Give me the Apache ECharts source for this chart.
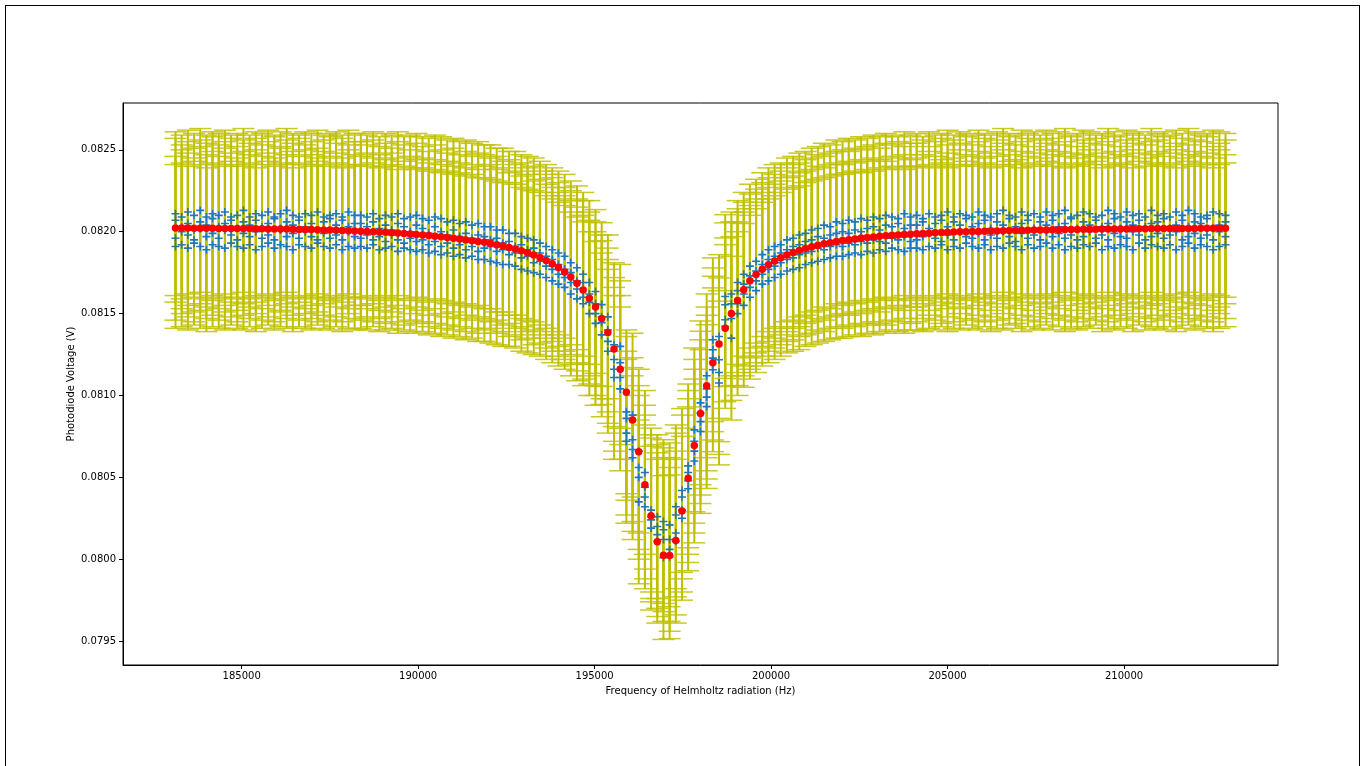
<!DOCTYPE html>
<html>
<head>
<meta charset="utf-8">
<script src="https://cdn.jsdelivr.net/npm/echarts@6/dist/echarts.min.js"></script>
<style>
  html, body { margin: 0; padding: 0; background: #fff; }
  #main { position: absolute; left: 0; top: 0; width: 1366px; height: 766px; }
  #frame { position: absolute; left: 5px; top: 5px; width: 1355px; height: 900px; box-sizing: border-box;
           border: 1px solid #000; pointer-events: none; }
</style>
</head>
<body>
<div id="main"></div>
<div id="frame"></div>
<script>
// frequency of the Helmholtz field (Hz)
var freqHz = [
  183125,183300,183475,183650,183825,184000,184175,184350,184525,184700,
  184875,185050,185225,185400,185575,185750,185925,186100,186275,186450,
  186625,186800,186975,187150,187325,187500,187675,187850,188025,188200,
  188375,188550,188725,188900,189075,189250,189425,189600,189775,189950,
  190125,190300,190475,190650,190825,191000,191175,191350,191525,191700,
  191875,192050,192225,192400,192575,192750,192925,193100,193275,193450,
  193625,193800,193975,194150,194325,194500,194675,194850,195025,195200,
  195375,195550,195725,195900,196075,196250,196425,196600,196775,196950,
  197125,197300,197475,197650,197825,198000,198175,198350,198525,198700,
  198875,199050,199225,199400,199575,199750,199925,200100,200275,200450,
  200625,200800,200975,201150,201325,201500,201675,201850,202025,202200,
  202375,202550,202725,202900,203075,203250,203425,203600,203775,203950,
  204125,204300,204475,204650,204825,205000,205175,205350,205525,205700,
  205875,206050,206225,206400,206575,206750,206925,207100,207275,207450,
  207625,207800,207975,208150,208325,208500,208675,208850,209025,209200,
  209375,209550,209725,209900,210075,210250,210425,210600,210775,210950,
  211125,211300,211475,211650,211825,212000,212175,212350,212525,212700,
  212875
];

// measured photodiode voltage, four readings per frequency (V)
var measA = [
  .08211,.08209,.08212,.0821,.08213,.08209,.08211,.0821,.08212,.08209,
  .0821,.08213,.08209,.08211,.0821,.08212,.08209,.08211,.08213,.0821,
  .08209,.08211,.0821,.08212,.08209,.0821,.08211,.08209,.08212,.0821,
  .0821,.08209,.08211,.08208,.0821,.08209,.08211,.08208,.08209,.0821,
  .08208,.08207,.08209,.08208,.08206,.08207,.08205,.08206,.08204,.08205,
  .08203,.08203,.08201,.08201,.08199,.08199,.08197,.08196,.08195,.08193,
  .08191,.08189,.08187,.08185,.08181,.08178,.08174,.08169,.081635,.081555,
  .08148,.08131,.0813,.0809,.08088,.08066,.08053,.0803,.08026,.08023,
  .08021,.08032,.08042,.08057,.08079,.080955,.08112,.08134,.08136,.081604,
  .08162,.08169,.08174,.08179,.08182,.08186,.08189,.08191,.08192,.08195,
  .08196,.08198,.08199,.08201,.08202,.08204,.08203,.08206,.08205,.08207,
  .08206,.08208,.08207,.08209,.08208,.0821,.08209,.08208,.08211,.08209,
  .0821,.08208,.08211,.08209,.0821,.08212,.08209,.08211,.0821,.08209,
  .08212,.0821,.08209,.08211,.08213,.0821,.08209,.08212,.0821,.08211,
  .08209,.08212,.0821,.08211,.08213,.08209,.0821,.08212,.08211,.08209,
  .0821,.08213,.08211,.08209,.08212,.0821,.08211,.08209,.08213,.0821,
  .08211,.08209,.08212,.0821,.08213,.08211,.08209,.0821,.08212,.08211,
  .0821
];
var measB = [
  .08207,.08203,.08205,.08201,.08206,.08204,.08208,.08203,.08205,.08207,
  .08202,.08206,.08204,.08207,.08203,.08205,.08208,.08202,.08206,.08204,
  .08207,.08203,.08205,.08201,.08206,.08208,.08204,.08207,.08203,.08205,
  .08205,.08203,.08206,.08202,.08204,.08201,.08205,.08203,.082,.08204,
  .08202,.08199,.08203,.082,.08198,.08201,.08197,.08199,.08196,.08198,
  .08197,.08195,.08196,.08193,.08194,.08191,.08192,.08189,.0819,.08187,
  .08185,.08183,.0818,.08177,.08175,.0817,.08169,.08162,.08156,.08148,
  .0814,.08122,.0812,.08086,.08073,.08056,.08044,.08026,.0802,.08018,
  .08012,.08027,.08038,.08053,.08072,.080892,.08104,.081279,.081218,.081554,
  .08156,.08164,.08168,.08173,.08176,.0818,.08183,.08185,.08187,.08189,
  .08191,.08192,.08194,.08195,.08197,.08196,.08198,.08199,.082,.08199,
  .08201,.082,.08202,.08203,.08201,.08204,.08203,.08205,.08202,.08204,
  .08204,.08206,.08202,.08205,.08207,.08203,.08206,.08204,.08208,.08203,
  .08205,.08207,.08202,.08206,.08204,.08208,.08203,.08205,.08207,.08202,
  .08206,.08204,.08207,.08203,.08205,.08208,.08202,.08206,.08204,.08207,
  .08203,.08205,.08208,.08202,.08206,.08204,.08207,.08203,.08205,.08206,
  .08208,.08202,.08204,.08207,.08203,.08206,.08205,.08208,.08202,.08204,
  .08206
];
var measC = [
  .08196,.082,.08198,.08195,.08202,.08197,.08199,.08196,.08201,.08198,
  .08195,.08199,.08197,.082,.08196,.08198,.08195,.08201,.08197,.08199,
  .08196,.082,.08197,.08195,.08199,.08196,.08198,.08195,.082,.08197,
  .08196,.08198,.08195,.08197,.08194,.08198,.08195,.08193,.08196,.08194,
  .08195,.08192,.08194,.08191,.08193,.0819,.08192,.08189,.08191,.08188,
  .0819,.08191,.08188,.08189,.08186,.08187,.08184,.08185,.08181,.08182,
  .08179,.08177,.08174,.08172,.08169,.08165,.0816,.08157,.0815,.081445,
  .08133,.08116,.08111,.08077,.08067,.0805,.08038,.08024,.08015,.08012,
  .08006,.08016,.0803,.08048,.08066,.08084,.08099,.081228,.08114,.081462,
  .08147,.08156,.08162,.08166,.0817,.08174,.08177,.08179,.08181,.08183,
  .08184,.08186,.08187,.08188,.0819,.08189,.08191,.08192,.08191,.08193,
  .08192,.08194,.08193,.08195,.08194,.08193,.08196,.08195,.08197,.08194,
  .08195,.08197,.08199,.08196,.08194,.08198,.08195,.082,.08197,.08196,
  .08199,.08195,.08198,.08196,.082,.08197,.08194,.08199,.08196,.08198,
  .08195,.082,.08197,.08199,.08196,.08198,.08195,.08197,.082,.08196,
  .08198,.08195,.08199,.08197,.08196,.082,.08198,.08195,.08197,.08199,
  .08196,.08198,.082,.08195,.08197,.08199,.08196,.08198,.08195,.082,
  .08197
];
var measD = [
  .08191,.08192,.0819,.08193,.08191,.08189,.08192,.08191,.0819,.08193,
  .08191,.0819,.08192,.08189,.08191,.08193,.0819,.08192,.08191,.08189,
  .08192,.08191,.0819,.08193,.08191,.0819,.08192,.08189,.08191,.0819,
  .08191,.0819,.08192,.08189,.0819,.08191,.08188,.0819,.08189,.08188,
  .08189,.08187,.08188,.08186,.08187,.08185,.08186,.08184,.08185,.08183,
  .08183,.08182,.08181,.0818,.0818,.08179,.08177,.08176,.08175,.08174,
  .08172,.0817,.08168,.08166,.08162,.08159,.08156,.0815,.08144,.08137,
  .08127,.08111,.08104,.08072,.08062,.08035,.08032,.08019,.08011,.08001,
  .080015,.08011,.08025,.08043,.0806,.08078,.080932,.081157,.081076,.081421,
  .08135,.0815,.08155,.0816,.08164,.08168,.0817,.08172,.08174,.08176,
  .08177,.08178,.0818,.08181,.08182,.08183,.08184,.08185,.08185,.08186,
  .08187,.08186,.08188,.08187,.08189,.08188,.0819,.08189,.08188,.0819,
  .0819,.08189,.08191,.0819,.08192,.08189,.08191,.0819,.08193,.08191,
  .0819,.08192,.08189,.08191,.0819,.08193,.08191,.08189,.08192,.0819,
  .08191,.08193,.0819,.08192,.08189,.08191,.0819,.08192,.08191,.08193,
  .08189,.08191,.0819,.08192,.08191,.08189,.08193,.0819,.08192,.08191,
  .0819,.08192,.08189,.08191,.08193,.0819,.08192,.08191,.08189,.08191,
  .08192
];

// fitted resonance curve (V)
var fitV = [
  .082022,.082022,.082022,.082021,.082021,.082021,.082021,.08202,.08202,.08202,
  .082019,.082019,.082019,.082018,.082018,.082017,.082017,.082016,.082016,.082015,
  .082014,.082013,.082013,.082012,.082011,.08201,.082009,.082007,.082006,.082005,
  .082003,.082002,.082,.081998,.081996,.081994,.081992,.081989,.081986,.081983,
  .08198,.081977,.081973,.081969,.081965,.08196,.081955,.08195,.081945,.08194,
  .081935,.081928,.081921,.081913,.081904,.081895,.081884,.081871,.081858,.081842,
  .081824,.081804,.081781,.081754,.081723,.081686,.081644,.081593,.08154,.08147,
  .081385,.081283,.08116,.08102,.08085,.080657,.080455,.080265,.080107,.080024,
  .080023,.080115,.080295,.080495,.080695,.08089,.08106,.0812,.081315,.08141,
  .0815,.08158,.081645,.081701,.081739,.081771,.081798,.081821,.081841,.081858,
  .081873,.081886,.081898,.081908,.081918,.081926,.081933,.08194,.081946,.081951,
  .081956,.081961,.081965,.081968,.081972,.081975,.081978,.08198,.081983,.081985,
  .081987,.081989,.081991,.081993,.081995,.081996,.081998,.081999,.082,.082001,
  .082002,.082003,.082004,.082005,.082006,.082007,.082008,.082009,.082009,.08201,
  .082011,.082011,.082012,.082012,.082013,.082014,.082014,.082015,.082015,.082015,
  .082016,.082016,.082017,.082017,.082017,.082018,.082018,.082018,.082019,.082019,
  .082019,.082019,.08202,.08202,.08202,.08202,.082021,.082021,.082021,.082021,
  .082021
];

var yErr = 0.0005;
var xTicks = [185000, 190000, 195000, 200000, 205000, 210000];
var yTicks = [0.0795, 0.0800, 0.0805, 0.0810, 0.0815, 0.0820, 0.0825];

var points = [], bars = [], fitPts = [];
var allMeas = [measA, measB, measC, measD];
var lo = Infinity, hi = -Infinity;
for (var k = 0; k < allMeas.length; k++) {
  for (var i = 0; i < freqHz.length; i++) {
    var v = allMeas[k][i];
    points.push([freqHz[i], v]);
    bars.push([freqHz[i], v - yErr, v + yErr]);
    lo = Math.min(lo, v - yErr);
    hi = Math.max(hi, v + yErr);
  }
}
for (var i = 0; i < freqHz.length; i++) fitPts.push([freqHz[i], fitV[i]]);

// matplotlib style 5% margins
var xSpan = freqHz[freqHz.length - 1] - freqHz[0];
var xMin = freqHz[0] - 0.05 * xSpan, xMax = freqHz[freqHz.length - 1] + 0.05 * xSpan;
var ySpan = hi - lo;
var yMin = lo - 0.05 * ySpan, yMax = hi + 0.05 * ySpan;

var font = 'DejaVu Sans';
var myChart = echarts.init(document.getElementById('main'));
var option = {
  animation: false,
  backgroundColor: '#ffffff',
  grid: { left: 123, top: 103, right: 88, bottom: 101, show: true, borderColor: '#000', borderWidth: 1, backgroundColor: 'transparent' },
  xAxis: {
    type: 'value', min: xMin, max: xMax,
    name: 'Frequency of Helmholtz radiation (Hz)', nameLocation: 'middle', nameGap: 21,
    nameMoveOverlap: false,
    nameTextStyle: { fontFamily: font, fontSize: 10, color: '#000' },
    axisLine: { show: true, onZero: false, lineStyle: { color: '#000', width: 1 } },
    axisTick: { show: true, length: 4, lineStyle: { color: '#000' }, customValues: xTicks },
    axisLabel: { fontFamily: font, fontSize: 10, color: '#000', margin: 6, customValues: xTicks,
                 formatter: function (v) { return String(Math.round(v)); } },
    splitLine: { show: false }
  },
  yAxis: {
    type: 'value', min: yMin, max: yMax,
    name: 'Photodiode Voltage (V)', nameLocation: 'middle', nameGap: 47,
    nameMoveOverlap: false,
    nameTextStyle: { fontFamily: font, fontSize: 10, color: '#000' },
    axisLine: { show: true, onZero: false, lineStyle: { color: '#000', width: 1 } },
    axisTick: { show: true, length: 4, lineStyle: { color: '#000' }, customValues: yTicks },
    axisLabel: { fontFamily: font, fontSize: 10, color: '#000', margin: 7, customValues: yTicks,
                 formatter: function (v) { return v.toFixed(4); } },
    splitLine: { show: false }
  },
  series: [
    {
      // error bars with caps
      type: 'custom',
      z: 1,
      data: bars,
      encode: { x: 0, y: [1, 2] },
      renderItem: function (params, api) {
        var x = api.value(0);
        var top = api.coord([x, api.value(2)]);
        var bot = api.coord([x, api.value(1)]);
        var cap = 11;
        var st = { stroke: '#bfbf00', lineWidth: 2 };
        var cs = { stroke: '#bfbf00', lineWidth: 1.5, opacity: 0.85 };
        return {
          type: 'group',
          children: [
            { type: 'line', shape: { x1: top[0], y1: top[1], x2: bot[0], y2: bot[1] }, style: st },
            { type: 'line', shape: { x1: top[0] - cap, y1: top[1], x2: top[0] + cap, y2: top[1] }, style: cs },
            { type: 'line', shape: { x1: bot[0] - cap, y1: bot[1], x2: bot[0] + cap, y2: bot[1] }, style: cs }
          ]
        };
      }
    },
    {
      type: 'scatter',
      z: 2,
      data: points,
      symbol: 'path://M4,0H6V4H10V6H6V10H4V6H0V4H4Z',
      symbolSize: 8,
      itemStyle: { color: '#1f77b4', opacity: 1 }
    },
    {
      type: 'scatter',
      z: 3,
      data: fitPts,
      symbol: 'circle',
      symbolSize: 7.5,
      itemStyle: { color: '#ff0000', opacity: 1 }
    }
  ]
};
myChart.setOption(option);
</script>
</body>
</html>
